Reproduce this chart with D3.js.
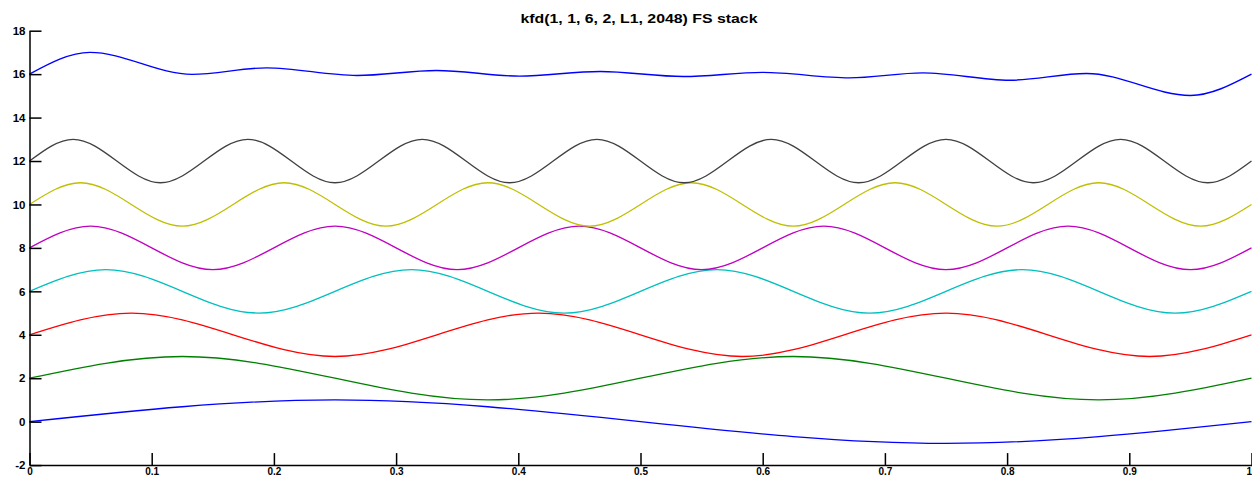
<!DOCTYPE html>
<html>
<head>
<meta charset="utf-8">
<script src="https://cdn.jsdelivr.net/npm/d3@7"></script>
<style>
  html, body { margin: 0; padding: 0; background: #fff; }
  svg { display: block; }
  .axis text { font-family: "Liberation Sans", Arial, sans-serif; font-weight: bold; fill: #000; }
  .axis path, .axis line { stroke: #000; }
</style>
</head>
<body>
<svg id="chart" width="1252" height="478"></svg>
<script>
// Harmonic components: levels at quarter-period knots, evenly spaced over [0, 1]
const wave1 = [0, 1, 0, -1, 0];
const wave2 = [2, 3, 2, 1, 2, 3, 2, 1, 2];
const wave3 = [4, 5, 4, 3, 4, 5, 4, 3, 4, 5, 4, 3, 4];
const wave4 = [6, 7, 6, 5, 6, 7, 6, 5, 6, 7, 6, 5, 6, 7, 6, 5, 6];
const wave5 = [8, 9, 8, 7, 8, 9, 8, 7, 8, 9, 8, 7, 8, 9, 8, 7, 8, 9, 8, 7, 8];
const wave6 = [10, 11, 10, 9, 10, 11, 10, 9, 10, 11, 10, 9, 10, 11, 10, 9, 10, 11, 10, 9, 10, 11, 10, 9, 10];
const wave7 = [12, 13, 12, 11, 12, 13, 12, 11, 12, 13, 12, 11, 12, 13, 12, 11, 12, 13, 12, 11, 12, 13, 12, 11, 12, 13, 12, 11, 12];
const waveColors = ["#0000ff", "#008000", "#ff0000", "#00bfbf", "#bf00bf", "#bfbf00", "#404040"];

// Stacked sum trace (turning points)
const sumX = [0, 0.0495, 0.133, 0.194, 0.268, 0.333, 0.401, 0.467, 0.535, 0.600, 0.671, 0.731, 0.802, 0.865, 0.950, 1];
const sumY = [16, 17.0, 15.99, 16.29, 15.94, 16.17, 15.91, 16.12, 15.89, 16.08, 15.83, 16.06, 15.72, 16.03, 15.02, 16];
const sumColor = "#0000ff";

const xTicks = [0, 0.1, 0.2, 0.3, 0.4, 0.5, 0.6, 0.7, 0.8, 0.9, 1];
const yTicks = [-2, 0, 2, 4, 6, 8, 10, 12, 14, 16, 18];
const title = "kfd(1, 1, 6, 2, L1, 2048) FS stack";

const svg = d3.select("#chart");
const x = d3.scaleLinear().domain([0, 1]).range([29.5, 1251.5]);
const y = d3.scaleLinear().domain([-2, 18]).range([465.1, 30.7]);

const line = d3.line().x(d => x(d[0])).y(d => y(d[1]));

// Harmonics: natural cubic spline through the quarter-period knots
const waves = [wave1, wave2, wave3, wave4, wave5, wave6, wave7];
waves.forEach((w, i) => {
  const pts = w.map((v, j) => [j / (w.length - 1), v]);
  svg.append("path")
    .attr("d", line.curve(d3.curveNatural)(pts))
    .attr("fill", "none")
    .attr("stroke", waveColors[i])
    .attr("stroke-width", 1.3);
});

// Summed trace
svg.append("path")
  .attr("d", line.curve(d3.curveMonotoneX)(sumX.map((v, i) => [v, sumY[i]])))
  .attr("fill", "none")
  .attr("stroke", sumColor)
  .attr("stroke-width", 1.4);

// Axes with inward ticks
const gx = svg.append("g").attr("class", "axis")
  .attr("transform", `translate(0,${y(-2)})`)
  .call(d3.axisBottom(x).tickValues(xTicks).tickSize(-12).tickSizeOuter(0).tickPadding(2.5)
    .tickFormat(d => String(d)));
gx.selectAll("text").attr("font-size", 10);
// keep the last label inside the frame
gx.selectAll(".tick").filter(d => d === 1).select("text").attr("text-anchor", "end");
const gy = svg.append("g").attr("class", "axis")
  .attr("transform", `translate(${x(0)},0)`)
  .call(d3.axisLeft(y).tickValues(yTicks).tickSize(-12).tickSizeOuter(0).tickPadding(4)
    .tickFormat(d => String(d)));
gy.selectAll("text").attr("font-size", 11.5);
svg.selectAll(".axis path, .axis line").attr("stroke-width", 1.5);

svg.append("text")
  .attr("x", 639).attr("y", 23)
  .attr("text-anchor", "middle")
  .attr("font-family", "Liberation Sans, Arial, sans-serif")
  .attr("font-weight", "bold")
  .attr("font-size", 12)
  .attr("textLength", 237)
  .attr("lengthAdjust", "spacingAndGlyphs")
  .text(title);
</script>
</body>
</html>
